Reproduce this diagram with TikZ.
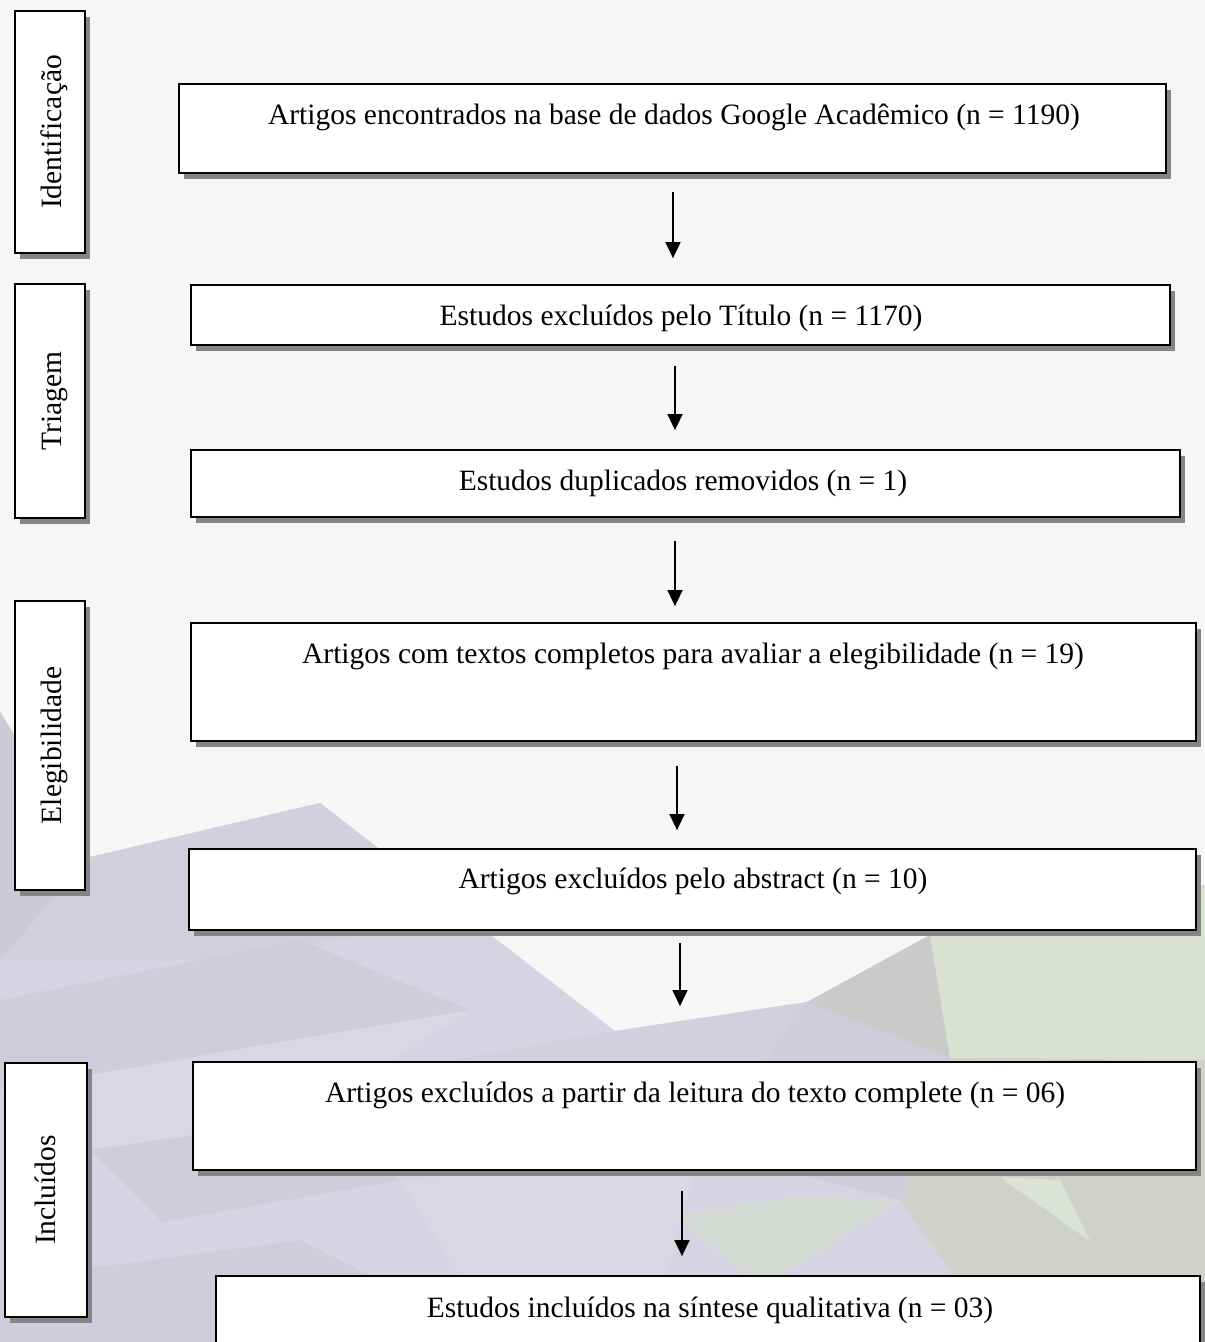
\documentclass[tikz,border=0pt]{standalone}
\usepackage{fontspec}
\setmainfont{Liberation Serif}
\usetikzlibrary{arrows.meta,shadows}
\definecolor{bglight}{HTML}{F6F6F6}
\definecolor{lavA}{HTML}{D6D4E2}
\definecolor{lavB}{HTML}{CFCDDA}
\definecolor{lavC}{HTML}{D2D0DD}
\definecolor{lavD}{HTML}{D9D7E4}
\definecolor{greyA}{HTML}{CBCAD5}
\definecolor{grnA}{HTML}{DAE1D3}
\definecolor{grnB}{HTML}{CED2CB}
\definecolor{grnC}{HTML}{DCE2D8}
\definecolor{grnD}{HTML}{D6DAD5}
\definecolor{greyG}{HTML}{CACBC9}
\definecolor{shadowgrey}{HTML}{858585}
\tikzset{
  flowbox/.style={draw=black, line width=1.8pt, fill=white, rectangle, inner sep=0pt,
    drop shadow={shadow xshift=5pt, shadow yshift=-6pt, fill=shadowgrey, opacity=1}},
  boxtext/.style={anchor=base, inner sep=0pt, font=\fontsize{29.5}{34}\selectfont},
  sidetext/.style={anchor=base, rotate=90, inner sep=0pt, font=\fontsize{29.5}{34}\selectfont},
  arr/.style={line width=1.5pt, -{Triangle[width=15pt,length=16pt]}}
}
\begin{document}
\begin{tikzpicture}[x=1pt,y=-1pt]
\clip (0,0) rectangle (1205,1342);
\useasboundingbox (0,0) rectangle (1205,1342);
% background
\fill[bglight] (0,0) rectangle (1205,1342);
\fill[lavA] (0,712) -- (90,857) -- (320,803) -- (615,1031) -- (807,1002) -- (930,935) -- (1205,885) -- (1205,1342) -- (0,1342) -- cycle;
\fill[greyA] (0,712) -- (90,857) -- (0,960) -- cycle;
\fill[lavC] (90,857) -- (320,803) -- (470,920) -- (200,960) -- (0,960) -- cycle;
\fill[lavB] (0,1000) -- (300,940) -- (470,1010) -- (0,1090) -- cycle;
\fill[lavD] (0,1090) -- (470,1010) -- (300,1120) -- (90,1150) -- cycle;
\fill[lavB] (90,1150) -- (163,1222) -- (400,1180) -- (300,1120) -- cycle;
\fill[lavC] (450,1060) -- (615,1031) -- (807,1002) -- (700,1150) -- cycle;
\fill[lavB] (0,1280) -- (300,1240) -- (500,1342) -- (0,1342) -- cycle;
\fill[lavD] (400,1180) -- (700,1150) -- (650,1342) -- (500,1342) -- cycle;
\fill[greyG] (807,1002) -- (930,935) -- (950,1058) -- cycle;
\fill[grnA] (930,935) -- (1205,885) -- (1205,1060) -- (950,1058) -- cycle;
\fill[grnB] (950,1058) -- (1205,1060) -- (1205,1342) -- (1000,1342) -- (900,1200) -- cycle;
\fill[lavB] (700,1150) -- (807,1002) -- (950,1058) -- (900,1200) -- cycle;
\fill[grnC] (1000,1177) -- (1090,1241) -- (1060,1180) -- cycle;
\fill[grnD] (676,1215) -- (800,1195) -- (900,1200) -- (760,1290) -- cycle;
% side labels
\node[flowbox, minimum width=70pt, minimum height=242pt] (l1) at (50,132) {};
\node[sidetext] (lt1) at (61,132) {Identificação};
\node[flowbox, minimum width=70pt, minimum height=234pt] (l2) at (50,401) {};
\node[sidetext] (lt2) at (61,401) {Triagem};
\node[flowbox, minimum width=70pt, minimum height=289pt] (l3) at (50,745.5) {};
\node[sidetext] (lt3) at (61,745.5) {Elegibilidade};
\node[flowbox, minimum width=82pt, minimum height=254pt] (l4) at (46,1190) {};
\node[sidetext] (lt4) at (55,1190) {Incluídos};
% main boxes
\node[flowbox, minimum width=987pt, minimum height=89pt] (b1) at (672.5,128.5) {};
\node[boxtext] (t1) at (674,124) {Artigos encontrados na base de dados Google Acadêmico (n = 1190)};
\node[flowbox, minimum width=979pt, minimum height=60pt] (b2) at (680.5,315) {};
\node[boxtext] (t2) at (681,325) {Estudos excluídos pelo Título (n = 1170)};
\node[flowbox, minimum width=989pt, minimum height=67pt] (b3) at (685.5,483.5) {};
\node[boxtext] (t3) at (683,490) {Estudos duplicados removidos (n = 1)};
\node[flowbox, minimum width=1005pt, minimum height=118pt] (b4) at (693.5,682) {};
\node[boxtext] (t4) at (693,663) {Artigos com textos completos para avaliar a elegibilidade (n = 19)};
\node[flowbox, minimum width=1007pt, minimum height=81pt] (b5) at (692.5,889.5) {};
\node[boxtext] (t5) at (693,888) {Artigos excluídos pelo abstract (n = 10)};
\node[flowbox, minimum width=1003pt, minimum height=108pt] (b6) at (694.5,1116) {};
\node[boxtext] (t6) at (695,1102) {Artigos excluídos a partir da leitura do texto complete (n = 06)};
\node[flowbox, minimum width=984pt, minimum height=104pt] (b7) at (708,1328) {};
\node[boxtext] (t7) at (710,1317) {Estudos incluídos na síntese qualitativa (n = 03)};
% arrows
\coordinate (x1) at (673,0);
\coordinate (x2) at (675,0);
\coordinate (x3) at (675,0);
\coordinate (x4) at (677,0);
\coordinate (x5) at (680,0);
\coordinate (x6) at (682,0);
\draw[arr, shorten <=18pt, shorten >=26pt] (b1.south -| x1) -- (b2.north -| x1);
\draw[arr, shorten <=20pt, shorten >=19pt] (b2.south -| x2) -- (b3.north -| x2);
\draw[arr, shorten <=23pt, shorten >=16pt] (b3.south -| x3) -- (b4.north -| x3);
\draw[arr, shorten <=24pt, shorten >=18pt] (b4.south -| x4) -- (b5.north -| x4);
\draw[arr, shorten <=12pt, shorten >=55pt] (b5.south -| x5) -- (b6.north -| x5);
\draw[arr, shorten <=20pt, shorten >=19pt] (b6.south -| x6) -- (b7.north -| x6);
\end{tikzpicture}
\end{document}
